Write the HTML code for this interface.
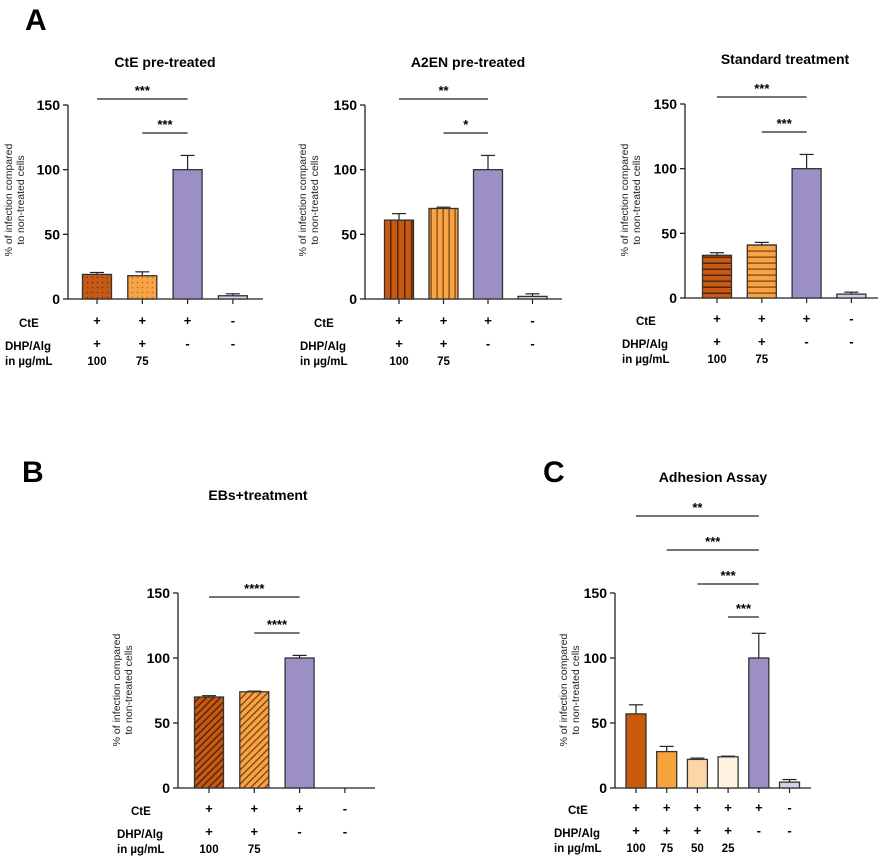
<!DOCTYPE html>
<html><head><meta charset="utf-8"><style>
html,body{margin:0;padding:0;background:#fff}
svg{display:block;font-family:"Liberation Sans",Arial,sans-serif}
</style></head><body>
<svg id="fig" width="886" height="857" viewBox="0 0 886 857">
<defs>
<pattern id="dotsDark" width="5" height="5" patternUnits="userSpaceOnUse"><rect width="5" height="5" fill="#c65a14"/><circle cx="2.5" cy="2.5" r="0.8" fill="#7a3206"/></pattern>
<pattern id="dotsLight" width="5" height="5" patternUnits="userSpaceOnUse"><rect width="5" height="5" fill="#f7a447"/><circle cx="2.5" cy="2.5" r="0.8" fill="#b8661a"/></pattern>
<pattern id="vDark" width="7" height="7" patternUnits="userSpaceOnUse"><rect width="7" height="7" fill="#c65a14"/><rect x="5" width="1.5" height="7" fill="#5a2505"/></pattern>
<pattern id="vLight" width="6" height="6" patternUnits="userSpaceOnUse"><rect width="6" height="6" fill="#f7a447"/><rect x="4.5" width="1.2" height="6" fill="#7a4008"/></pattern>
<pattern id="hDark" width="6" height="6" patternUnits="userSpaceOnUse"><rect width="6" height="6" fill="#c65a14"/><rect y="4.5" width="6" height="1.5" fill="#5a2505"/></pattern>
<pattern id="hLight" width="6" height="6" patternUnits="userSpaceOnUse"><rect width="6" height="6" fill="#f7a447"/><rect y="4.5" width="6" height="1.2" fill="#7a4008"/></pattern>
<pattern id="dDark" width="5" height="5" patternUnits="userSpaceOnUse" patternTransform="rotate(45)"><rect width="5" height="5" fill="#c65a14"/><rect x="3.5" width="1.5" height="5" fill="#5a2505"/></pattern>
<pattern id="dLight" width="5" height="5" patternUnits="userSpaceOnUse" patternTransform="rotate(45)"><rect width="5" height="5" fill="#f7a447"/><rect x="3.5" width="1.3" height="5" fill="#7a4008"/></pattern>
</defs>
<text x="25" y="30" font-size="30" font-weight="bold">A</text>
<text x="22" y="482" font-size="30" font-weight="bold">B</text>
<text x="543" y="482" font-size="30" font-weight="bold">C</text>
</svg>
<script>
// ---- data ----
const a1Values = [19, 18, 100, 2.5];
const a1Errors = [1.5, 3, 11, 1.5];
const a2Values = [61, 70, 100, 2];
const a2Errors = [5, 1, 11, 2];
const a3Values = [33, 41, 100, 3];
const a3Errors = [2, 2, 11, 1.5];
const bValues = [70, 74, 100, null];
const bErrors = [1, 0.5, 2, 0];
const cValues = [57, 28, 22, 24, 100, 4.5];
const cErrors = [7, 4, 1, 0.5, 19, 2];
const yTicks = [0, 50, 100, 150];
const cteRow4 = ["+", "+", "+", "-"];
const dhpRow4 = ["+", "+", "-", "-"];
const doseRow4 = ["100", "75", "", ""];
const cteRow6 = ["+", "+", "+", "+", "+", "-"];
const dhpRow6 = ["+", "+", "+", "+", "-", "-"];
const doseRow6 = ["100", "75", "50", "25", "", ""];

const NS = "http://www.w3.org/2000/svg";
const svg = document.getElementById("fig");
function mk(tag, attrs, parent, txt) {
  const e = document.createElementNS(NS, tag);
  for (const k in attrs) e.setAttribute(k, attrs[k]);
  if (txt !== undefined) e.textContent = txt;
  (parent || svg).appendChild(e);
  return e;
}

function panel(p) {
  const g = mk("g", {});
  
  
  const yS = v => p.y0 - (v / 150) * (p.y0 - p.y150);
  const cx = i => p.first + i * p.step;
  const t = mk("text", {x: p.titleX, y: p.titleY, "font-size": 14, "font-weight": "bold", "text-anchor": "middle"}, g, p.title);
  
  
  const ax = mk("line", {x1: p.x0, y1: yS(150), x2: p.x0, y2: p.y0, stroke: "#222", "stroke-width": 1.3}, g);
  
  
  const xa = mk("line", {x1: p.x0, y1: p.y0, x2: p.xEnd, y2: p.y0, stroke: "#222", "stroke-width": 1.3}, g);
  
  
  yTicks.forEach(v => {
    mk("line", {x1: p.x0 - 5, y1: yS(v), x2: p.x0, y2: yS(v), stroke: "#222", "stroke-width": 1.3}, g);
    const tl = mk("text", {x: p.x0 - 8, y: yS(v) + 5, "font-size": 14, "font-weight": "bold", "text-anchor": "end"}, g, String(v));
    
    
  });
  const yt = mk("text", {transform: `translate(${p.ytX},${p.ytY}) rotate(-90)`, "font-size": 10.5, "text-anchor": "middle", fill: "#222"}, g);
  
  
  mk("tspan", {x: 0, dy: 0}, yt, "% of infection compared");
  mk("tspan", {x: 0, dy: 12}, yt, "to non-treated cells");
  p.values.forEach((v, i) => {
    const c = cx(i);
    mk("line", {x1: c, y1: p.y0, x2: c, y2: p.y0 + 5, stroke: "#222", "stroke-width": 1.2}, g);
    if (v === null) return;
    const e = p.errors[i];
    const el = mk("line", {x1: c, y1: yS(v), x2: c, y2: yS(v + e), stroke: "#222", "stroke-width": 1.2}, g);
    
    
    mk("line", {x1: c - 7, y1: yS(v + e), x2: c + 7, y2: yS(v + e), stroke: "#222", "stroke-width": 1.2}, g);
    const r = mk("rect", {x: c - p.bw / 2, y: yS(v), width: p.bw, height: p.y0 - yS(v), fill: p.fills[i], stroke: "#333", "stroke-width": 1.3}, g);
    
    
  });
  p.sig.forEach(s => {
    const l = mk("line", {x1: cx(s[0]), y1: s[2], x2: cx(s[1]), y2: s[2], stroke: "#222", "stroke-width": 1.3}, g);
    
    
    const st = mk("text", {x: (cx(s[0]) + cx(s[1])) / 2, y: s[2] - 4, "font-size": 13, "font-weight": "bold", "text-anchor": "middle"}, g, s[3]);
    
    
  });
  const rl = (txt, x, y, nm) => {
    const e = mk("text", {x: x, y: y, "font-size": 11.5, "font-weight": "bold"}, g, txt);
    
    
  };
  rl("CtE", p.rowX + 14, p.rowY, "cte-row-label");
  rl("DHP/Alg", p.rowX, p.rowY + 23, "dhp-row-label");
  rl("in µg/mL", p.rowX, p.rowY + 38, "dose-row-label");
  p.cte.forEach((s, i) => {
    const e = mk("text", {x: cx(i), y: p.rowY - 2, "font-size": 13, "font-weight": "bold", "text-anchor": "middle"}, g, s);
    
    
  });
  p.dhp.forEach((s, i) => {
    const e = mk("text", {x: cx(i), y: p.rowY + 21, "font-size": 13, "font-weight": "bold", "text-anchor": "middle"}, g, s);
    
    
  });
  p.dose.forEach((s, i) => {
    if (!s) return;
    const e = mk("text", {x: cx(i), y: p.rowY + 38, "font-size": 11.5, "font-weight": "bold", "text-anchor": "middle"}, g, s);
    
    
  });
}

const PUR = "#9b8fc6", LAV = "#cfd0ea";
panel({name: "chart-cte-pretreated", title: "CtE pre-treated", titleX: 165, titleY: 67,
  x0: 68, xEnd: 263, y0: 299, y150: 105, first: 97, step: 45.3, bw: 29,
  values: a1Values, errors: a1Errors, fills: ["url(#dotsDark)", "url(#dotsLight)", PUR, LAV],
  sig: [[0, 2, 99, "***"], [1, 2, 133, "***"]], ytX: 12, ytY: 200,
  rowX: 5, rowY: 327, cte: cteRow4, dhp: dhpRow4, dose: doseRow4});
panel({name: "chart-a2en-pretreated", title: "A2EN pre-treated", titleX: 468, titleY: 67,
  x0: 365, xEnd: 562, y0: 299, y150: 105, first: 399, step: 44.5, bw: 29,
  values: a2Values, errors: a2Errors, fills: ["url(#vDark)", "url(#vLight)", PUR, LAV],
  sig: [[0, 2, 99, "**"], [1, 2, 133, "*"]], ytX: 306, ytY: 200,
  rowX: 300, rowY: 327, cte: cteRow4, dhp: dhpRow4, dose: doseRow4});
panel({name: "chart-standard-treatment", title: "Standard treatment", titleX: 785, titleY: 64,
  x0: 685, xEnd: 878, y0: 298, y150: 104, first: 717, step: 44.8, bw: 29,
  values: a3Values, errors: a3Errors, fills: ["url(#hDark)", "url(#hLight)", PUR, LAV],
  sig: [[0, 2, 97, "***"], [1, 2, 132, "***"]], ytX: 628, ytY: 200,
  rowX: 622, rowY: 325, cte: cteRow4, dhp: dhpRow4, dose: doseRow4});
panel({name: "chart-ebs-treatment", title: "EBs+treatment", titleX: 258, titleY: 500,
  x0: 178, xEnd: 375, y0: 788, y150: 593, first: 209, step: 45.3, bw: 29,
  values: bValues, errors: bErrors, fills: ["url(#dDark)", "url(#dLight)", PUR, LAV],
  sig: [[0, 2, 597, "****"], [1, 2, 633, "****"]], ytX: 120, ytY: 690,
  rowX: 117, rowY: 815, cte: cteRow4, dhp: dhpRow4, dose: doseRow4});
panel({name: "chart-adhesion-assay", title: "Adhesion Assay", titleX: 713, titleY: 482,
  x0: 615, xEnd: 811, y0: 788, y150: 593, first: 636, step: 30.7, bw: 20,
  values: cValues, errors: cErrors, fills: ["#c95a0c", "#f7a33c", "#fcd7a5", "#fff3e3", PUR, LAV],
  sig: [[0, 4, 516, "**"], [1, 4, 550, "***"], [2, 4, 584, "***"], [3, 4, 617, "***"]], ytX: 567, ytY: 690,
  rowX: 554, rowY: 814, cte: cteRow6, dhp: dhpRow6, dose: doseRow6});
</script>
</body></html>
